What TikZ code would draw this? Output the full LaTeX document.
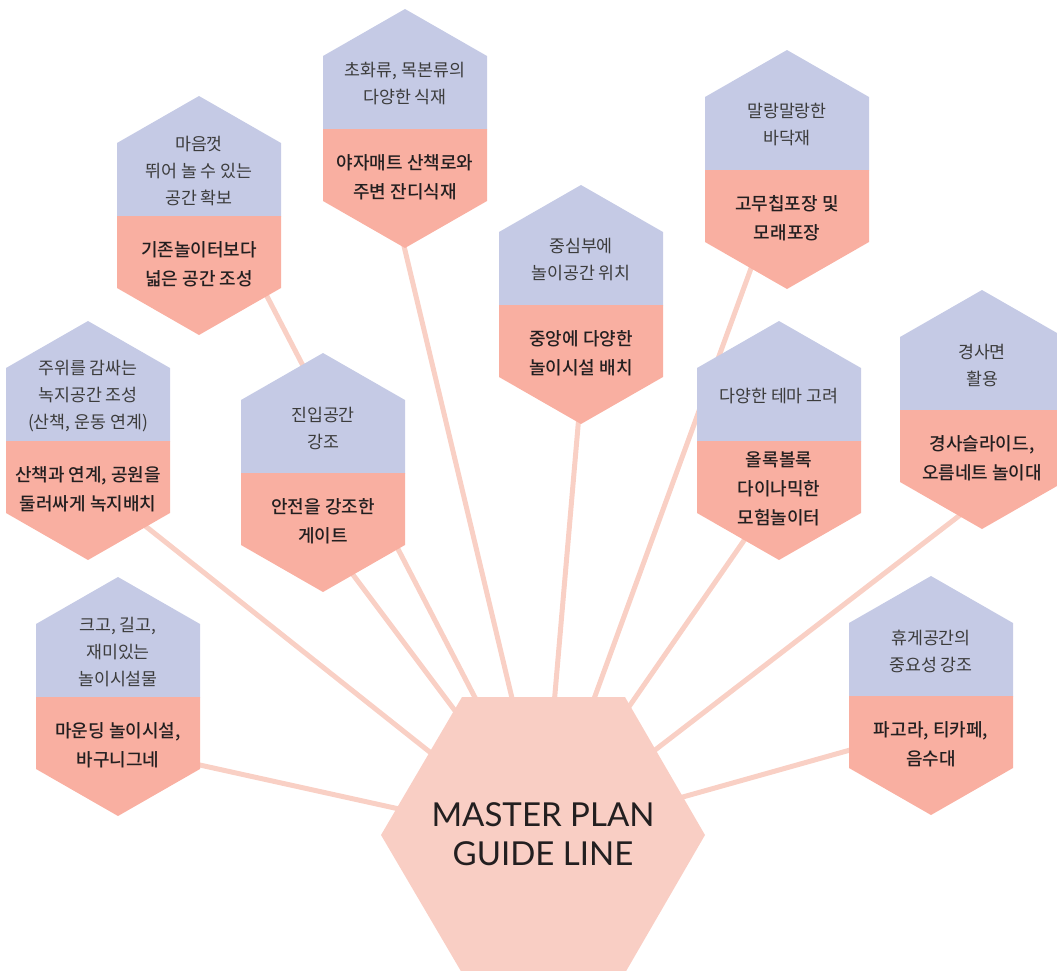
\documentclass[tikz,border=0pt]{standalone}
\usepackage{fontspec}
\newfontfamily\krreg{Noto Sans CJK KR}
\newfontfamily\krmed{Noto Sans CJK KR Medium}
\newfontfamily\latofont{Lato}
\definecolor{hexlav}{HTML}{C5CAE5}
\definecolor{hexsal}{HTML}{F9AFA1}
\definecolor{hexmain}{HTML}{F9CEC4}
\definecolor{linkcol}{HTML}{F9D0C5}
\definecolor{uptxt}{HTML}{3C3C3C}
\definecolor{lotxt}{HTML}{231F20}
\tikzset{
  hexup/.style={fill=hexlav},
  hexlo/.style={fill=hexsal},
  uptext/.style={text=uptxt, align=center, inner sep=0pt, font={\krreg\fontsize{17.3}{27}\selectfont}},
  lotext/.style={text=lotxt, align=center, inner sep=0pt, font={\krmed\fontsize{18}{29}\selectfont}},
  link/.style={draw=linkcol, line width=5pt},
  maintext/.style={text=lotxt, align=center, inner sep=0pt, font={\latofont\fontsize{33}{39}\selectfont}}
}
% #1 centre x, #2 top y, #3 name, #4 upper text, #5 lower text
\newcommand\hexcell[5]{%
  \fill[hexup] (#1,#2) -- (#1+82,#2+47) -- (#1+82,#2+120.5) -- (#1-82,#2+120.5) -- (#1-82,#2+47) -- cycle;
  \fill[hexlo] (#1-82,#2+120) -- (#1+82,#2+120) -- (#1+82,#2+192) -- (#1,#2+239) -- (#1-82,#2+192) -- cycle;
  \coordinate (#3) at (#1,#2+120);
  \node[uptext] (#3u) at (#1,#2+75) {#4};
  \node[lotext] (#3l) at (#1,#2+168) {#5};
}
\begin{document}
\begin{tikzpicture}[x=1pt,y=-1pt]
\useasboundingbox (0,0) rectangle (1057,970);
% connector end points
\coordinate (a1) at (243,250);  \coordinate (b1) at (497,740);
\coordinate (a2) at (297,500);  \coordinate (b2) at (492,760);
\coordinate (a3) at (100,490);  \coordinate (b3) at (470,784);
\coordinate (a4) at (393,200);  \coordinate (b4) at (522,740);
\coordinate (a5) at (150,754);  \coordinate (b5) at (440,818);
\coordinate (a6) at (582,380);  \coordinate (b6) at (551,740);
\coordinate (a7) at (765,230);  \coordinate (b7) at (579,740);
\coordinate (a8) at (772,500);  \coordinate (b8) at (599,750);
\coordinate (a9) at (990,492);  \coordinate (b9) at (620,777);
\coordinate (a10) at (900,736); \coordinate (b10) at (640,809);
\foreach \i in {1,...,10} { \draw[link] (a\i) -- (b\i); }
% hexagons
\hexcell{199}{96}{h1}{마음껏\\뛰어 놀 수 있는\\공간 확보}{기존놀이터보다\\넓은 공간 조성}
\hexcell{405}{9}{h2}{초화류, 목본류의\\다양한 식재}{야자매트 산책로와\\주변 잔디식재}
\hexcell{88}{321}{h3}{주위를 감싸는\\녹지공간 조성\\(산책, 운동 연계)}{산책과 연계, 공원을\\둘러싸게 녹지배치}
\hexcell{323}{353}{h4}{진입공간\\강조}{안전을 강조한\\게이트}
\hexcell{118}{577}{h5}{크고, 길고,\\재미있는\\놀이시설물}{마운딩 놀이시설,\\바구니그네}
\hexcell{581}{185}{h6}{중심부에\\놀이공간 위치}{중앙에 다양한\\놀이시설 배치}
\hexcell{787}{50}{h7}{말랑말랑한\\바닥재}{고무칩포장 및\\모래포장}
\hexcell{779}{321}{h8}{다양한 테마 고려}{올록볼록\\다이나믹한\\모험놀이터}
\hexcell{982}{290}{h9}{경사면\\활용}{경사슬라이드,\\오름네트 놀이대}
\hexcell{931}{576}{h10}{휴게공간의\\중요성 강조}{파고라, 티카페,\\음수대}
% central hexagon
\fill[hexmain] (462,697) -- (625,697) -- (705,835) -- (625,973) -- (462,973) -- (381,835) -- cycle;
\node[maintext] (main) at (543,834) {MASTER PLAN\\GUIDE LINE};
\end{tikzpicture}
\end{document}
